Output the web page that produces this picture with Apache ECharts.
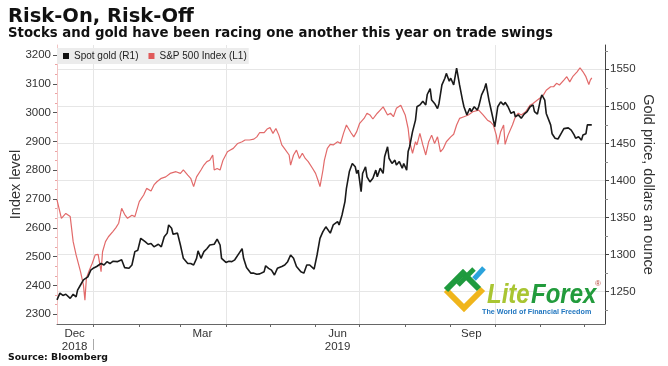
<!DOCTYPE html>
<html><head><meta charset="utf-8">
<script src="https://cdn.jsdelivr.net/npm/echarts@6/dist/echarts.min.js"></script>
<style>html,body{margin:0;padding:0;background:#fff}#c{width:668px;height:366px}</style>
</head><body><div id="c"></div>
<script>
// S&P 500 Index (left axis)
const spx = [
['2018-12-07',2697],['2018-12-10',2633],['2018-12-13',2650],['2018-12-16',2639],['2018-12-18',2552],
['2018-12-20',2506],['2018-12-23',2448],['2018-12-25',2401],['2018-12-26',2349],['2018-12-27',2425],
['2018-12-29',2453],['2018-12-31',2477],['2019-01-02',2506],['2019-01-04',2508],['2019-01-06',2448],
['2019-01-07',2517],['2019-01-09',2552],['2019-01-11',2569],['2019-01-14',2587],['2019-01-16',2600],
['2019-01-18',2616],['2019-01-20',2668],['2019-01-22',2647],['2019-01-24',2633],['2019-01-27',2644],
['2019-01-29',2639],['2019-02-01',2691],['2019-02-04',2714],['2019-02-06',2737],['2019-02-09',2728],
['2019-02-11',2749],['2019-02-13',2760],['2019-02-16',2772],['2019-02-19',2777],['2019-02-22',2789],
['2019-02-26',2795],['2019-03-01',2789],['2019-03-03',2801],['2019-03-06',2783],['2019-03-08',2772],
['2019-03-10',2743],['2019-03-12',2777],['2019-03-15',2801],['2019-03-17',2818],['2019-03-19',2830],
['2019-03-21',2835],['2019-03-23',2853],['2019-03-24',2801],['2019-03-26',2806],['2019-03-28',2801],
['2019-03-30',2835],['2019-04-02',2864],['2019-04-04',2870],['2019-04-06',2876],['2019-04-09',2893],
['2019-04-10',2888],['2019-04-12',2899],['2019-04-14',2905],['2019-04-17',2905],['2019-04-20',2908],
['2019-04-22',2916],['2019-04-24',2931],['2019-04-27',2931],['2019-04-29',2943],['2019-05-01',2948],
['2019-05-03',2928],['2019-05-05',2945],['2019-05-07',2922],['2019-05-09',2888],['2019-05-11',2874],
['2019-05-14',2853],['2019-05-15',2818],['2019-05-17',2853],['2019-05-19',2870],['2019-05-21',2841],
['2019-05-23',2859],['2019-05-25',2841],['2019-05-27',2830],['2019-05-30',2806],['2019-06-01',2789],
['2019-06-03',2760],['2019-06-04',2743],['2019-06-06',2800],['2019-06-07',2835],['2019-06-09',2876],
['2019-06-11',2890],['2019-06-13',2888],['2019-06-16',2899],['2019-06-18',2893],['2019-06-20',2928],
['2019-06-22',2957],['2019-06-25',2931],['2019-06-27',2916],['2019-06-29',2934],['2019-07-01',2963],
['2019-07-04',2980],['2019-07-06',2998],['2019-07-08',2992],['2019-07-10',2978],['2019-07-13',2998],
['2019-07-15',3009],['2019-07-17',3020],['2019-07-20',2992],['2019-07-22',2998],['2019-07-24',2986],
['2019-07-26',3015],['2019-07-29',3026],['2019-07-30',3020],['2019-08-01',2992],['2019-08-03',2945],
['2019-08-04',2899],['2019-08-06',2859],['2019-08-08',2899],['2019-08-09',2888],['2019-08-11',2928],
['2019-08-13',2888],['2019-08-15',2853],['2019-08-17',2899],['2019-08-19',2922],['2019-08-21',2893],
['2019-08-23',2916],['2019-08-25',2864],['2019-08-27',2876],['2019-08-29',2899],['2019-09-01',2916],
['2019-09-03',2925],['2019-09-05',2957],['2019-09-07',2980],['2019-09-10',2986],['2019-09-13',2992],
['2019-09-16',3003],['2019-09-20',3009],['2019-09-23',2992],['2019-09-26',2974],['2019-09-28',2968],
['2019-09-30',2957],['2019-10-02',2922],['2019-10-03',2890],['2019-10-05',2934],['2019-10-07',2957],
['2019-10-08',2890],['2019-10-10',2922],['2019-10-13',2957],['2019-10-15',2986],['2019-10-17',2998],
['2019-10-19',2992],['2019-10-22',3003],['2019-10-25',3026],['2019-10-27',3032],['2019-10-30',3044],
['2019-11-01',3052],['2019-11-03',3061],['2019-11-05',3078],['2019-11-08',3090],['2019-11-10',3090],
['2019-11-12',3102],['2019-11-14',3096],['2019-11-17',3113],['2019-11-19',3125],['2019-11-21',3107],
['2019-11-23',3125],['2019-11-26',3142],['2019-11-28',3156],['2019-11-30',3142],['2019-12-02',3125],
['2019-12-04',3098],['2019-12-05',3113],['2019-12-06',3121]
];
// Spot gold (right axis)
const gold = [
['2018-12-07',1239],['2018-12-09',1248],['2018-12-11',1245],['2018-12-13',1246.5],['2018-12-16',1241],
['2018-12-18',1246.5],['2018-12-20',1243],['2018-12-21',1252],['2018-12-23',1259],['2018-12-25',1266],
['2018-12-26',1268],['2018-12-28',1270],['2018-12-30',1279],['2019-01-01',1282],['2019-01-03',1284],
['2019-01-06',1288],['2019-01-08',1286],['2019-01-10',1290.5],['2019-01-12',1288],['2019-01-14',1291],
['2019-01-17',1290.5],['2019-01-20',1293],['2019-01-22',1282.5],['2019-01-25',1281.5],['2019-01-27',1286],
['2019-01-29',1304],['2019-01-31',1306],['2019-02-02',1322],['2019-02-05',1317.5],['2019-02-07',1314],
['2019-02-09',1315],['2019-02-11',1310.5],['2019-02-14',1314],['2019-02-16',1310.5],['2019-02-18',1324],
['2019-02-20',1329],['2019-02-21',1340],['2019-02-23',1335.5],['2019-02-24',1327.5],['2019-02-27',1329],
['2019-03-01',1313],['2019-03-03',1295],['2019-03-06',1288],['2019-03-08',1288],['2019-03-10',1286],
['2019-03-12',1295],['2019-03-13',1305],['2019-03-15',1295],['2019-03-17',1304],['2019-03-19',1308],
['2019-03-21',1313],['2019-03-24',1314],['2019-03-26',1321],['2019-03-28',1313],['2019-03-29',1295],
['2019-04-01',1289.5],['2019-04-03',1291],['2019-04-05',1290.5],['2019-04-07',1293],['2019-04-10',1302],
['2019-04-12',1308],['2019-04-13',1295],['2019-04-15',1282.5],['2019-04-18',1275],['2019-04-20',1275],
['2019-04-22',1273.5],['2019-04-24',1274],['2019-04-27',1277],['2019-04-28',1285],['2019-04-30',1281.5],
['2019-05-02',1279],['2019-05-04',1272.5],['2019-05-06',1281.5],['2019-05-09',1284],['2019-05-11',1286],
['2019-05-13',1290.5],['2019-05-15',1299.5],['2019-05-17',1295],['2019-05-19',1284],['2019-05-22',1277],
['2019-05-24',1275],['2019-05-26',1286],['2019-05-28',1286],['2019-05-31',1280.5],['2019-06-02',1299.5],
['2019-06-04',1322],['2019-06-06',1331],['2019-06-08',1337.5],['2019-06-11',1329],['2019-06-13',1340],
['2019-06-16',1344.5],['2019-06-17',1340],['2019-06-19',1353.5],['2019-06-21',1371.5],['2019-06-22',1389.5],
['2019-06-24',1412],['2019-06-26',1423],['2019-06-28',1418.5],['2019-06-29',1409.5],['2019-06-30',1414],
['2019-07-02',1385],['2019-07-03',1409.5],['2019-07-05',1418.5],['2019-07-06',1405],['2019-07-08',1398],
['2019-07-10',1403],['2019-07-12',1414],['2019-07-13',1405],['2019-07-15',1416.5],['2019-07-17',1409.5],
['2019-07-18',1432],['2019-07-20',1445.5],['2019-07-21',1430],['2019-07-23',1423],['2019-07-25',1427.5],
['2019-07-26',1421],['2019-07-28',1425.5],['2019-07-30',1416.5],['2019-07-31',1423],['2019-08-02',1414],
['2019-08-03',1439],['2019-08-04',1445.5],['2019-08-06',1466],['2019-08-08',1481.5],['2019-08-09',1499.5],
['2019-08-11',1502],['2019-08-13',1507],['2019-08-15',1502],['2019-08-16',1516],['2019-08-18',1524],
['2019-08-19',1508.5],['2019-08-21',1504],['2019-08-23',1497],['2019-08-24',1504],['2019-08-26',1529],
['2019-08-28',1538],['2019-08-29',1544.5],['2019-08-31',1534],['2019-09-01',1538],['2019-09-03',1529],
['2019-09-05',1551.5],['2019-09-06',1553.5],['2019-09-07',1529],['2019-09-09',1508.5],['2019-09-10',1499.5],
['2019-09-12',1488.5],['2019-09-14',1497.5],['2019-09-15',1493],['2019-09-17',1499.5],['2019-09-19',1495],
['2019-09-20',1499.5],['2019-09-22',1515.5],['2019-09-24',1524],['2019-09-25',1531],['2019-09-27',1508.5],
['2019-09-28',1499.5],['2019-09-30',1481.5],['2019-10-01',1472.5],['2019-10-03',1499.5],['2019-10-05',1506],
['2019-10-07',1502],['2019-10-08',1505.5],['2019-10-10',1499.5],['2019-10-12',1490.5],['2019-10-14',1493],
['2019-10-15',1486],['2019-10-17',1488.5],['2019-10-19',1484],['2019-10-21',1489.5],['2019-10-23',1493],
['2019-10-25',1499.5],['2019-10-27',1502],['2019-10-28',1493],['2019-10-30',1489.5],['2019-11-01',1508.5],
['2019-11-02',1515.5],['2019-11-04',1508.5],['2019-11-05',1490.5],['2019-11-06',1488.5],['2019-11-08',1475],
['2019-11-09',1463],['2019-11-11',1457],['2019-11-13',1456],['2019-11-15',1463],['2019-11-17',1470],
['2019-11-20',1471],['2019-11-22',1468],['2019-11-24',1461.5],['2019-11-25',1457],['2019-11-27',1459],
['2019-11-29',1454.5],['2019-11-30',1461.5],['2019-12-02',1463],['2019-12-03',1475],['2019-12-04',1475.5],
['2019-12-06',1475]
];
const leftTicks = [2300,2400,2500,2600,2700,2800,2900,3000,3100,3200];
const rightTicks = [1250,1300,1350,1400,1450,1500,1550];
const rightMinor = [1225,1275,1325,1375,1425,1475,1525,1575];
const monthTicks = ['2019-01-01','2019-02-01','2019-03-01','2019-04-01','2019-05-01','2019-06-01',
  '2019-07-01','2019-08-01','2019-09-01','2019-10-01','2019-11-01','2019-12-01'];
const quarterLines = ['2019-01-01','2019-04-01','2019-07-01','2019-10-01'];
const yearBreaks = ['2019-01-01'];
const monthLabels = [['2018-12-19','Dec\n2018'],['2019-03-16','Mar'],['2019-06-16','Jun\n2019'],['2019-09-15','Sep']];

const T = s => +new Date(s + 'T00:00:00');
const labelMap = {};
monthLabels.forEach(([d, t]) => { labelMap[T(d)] = t; });
const leftMinor = [];
for (let i = 0; i < leftTicks.length - 1; i++) {
  const a = leftTicks[i], b = leftTicks[i + 1];
  leftMinor.push(a + (b - a) / 3, a + 2 * (b - a) / 3);
}
const XMIN = T('2018-12-07'), XMAX = T('2019-12-15');
const LMIN = 2266, LMAX = 3235, RMIN = 1206.4, RMAX = 1582.8;
const FF = 'Liberation Sans, Arial, sans-serif';
const FB = 'DejaVu Sans, Verdana, sans-serif';
const hidden = () => ({ axisLine: { show: false }, axisLabel: { show: false }, splitLine: { show: false } });
const xBase = () => ({ type: 'value', min: XMIN, max: XMAX, position: 'bottom' });

const chart = echarts.init(document.getElementById('c'), null, { renderer: 'canvas' });
chart.setOption({
  animation: false,
  backgroundColor: '#fff',
  title: [
    { text: 'Risk-On, Risk-Off', left: 8, top: 7, padding: 0,
      textStyle: { fontFamily: FB, fontWeight: 'bold', fontSize: 19.5, lineHeight: 19, color: '#111' } },
    { text: 'Stocks and gold have been racing one another this year on trade swings', left: 8, top: 27, padding: 0,
      textStyle: { fontFamily: FB, fontWeight: 'bold', fontSize: 13.3, lineHeight: 13, color: '#111' } },
    { text: 'Source: Bloomberg', left: 8, top: 353, padding: 0,
      textStyle: { fontFamily: FB, fontWeight: 'bold', fontSize: 9.3, lineHeight: 9, color: '#111' } }
  ],
  legend: {
    left: 57, top: 48, padding: [3, 2, 3, 6], itemGap: 10, itemWidth: 6, itemHeight: 6,
    backgroundColor: '#ececec', icon: 'rect',
    textStyle: { fontFamily: FF, fontSize: 10, color: '#222', lineHeight: 10 },
    data: ['Spot gold (R1)', 'S&P 500 Index (L1)']
  },
  grid: { left: 57, right: 63, top: 45, bottom: 42, containLabel: false, outerBoundsMode: 'none' },
  xAxis: [
    Object.assign(xBase(), {
      axisLine: { show: true, lineStyle: { color: '#666', width: 1 } },
      axisTick: { show: true, customValues: monthTicks.map(T), length: 3, lineStyle: { color: '#666' } },
      axisLabel: { show: true, customValues: monthLabels.map(m => T(m[0])), formatter: v => labelMap[v] || '',
        fontFamily: FF, fontSize: 11.5, color: '#333', lineHeight: 13, margin: 3, align: 'center' },
      splitLine: { show: false } }),
    Object.assign(xBase(), hidden(), {
      axisTick: { show: false, customValues: quarterLines.map(T) },
      splitLine: { show: true, lineStyle: { color: '#e6e6e6', width: 1 } } }),
    Object.assign(xBase(), hidden(), { offset: 15,
      axisTick: { show: true, customValues: yearBreaks.map(T), length: 11, lineStyle: { color: '#aaa' } } })
  ],
  yAxis: [
    { type: 'value', position: 'left', min: LMIN, max: LMAX,
      name: 'Index level', nameLocation: 'middle', nameGap: 34, nameRotate: 90, nameMoveOverlap: false,
      nameTextStyle: { fontFamily: FF, fontSize: 14.5, color: '#333' },
      axisLine: { show: true, lineStyle: { color: '#f2c4c4' } },
      axisTick: { show: true, customValues: leftTicks, length: 4, lineStyle: { color: '#555' } },
      axisLabel: { customValues: leftTicks, formatter: v => String(v), fontFamily: FF, fontSize: 11.5, color: '#333', margin: 6 },
      splitLine: { show: false } },
    { type: 'value', position: 'right', min: RMIN, max: RMAX,
      name: 'Gold price, dollars an ounce', nameLocation: 'middle', nameGap: 35, nameRotate: -90, nameMoveOverlap: false,
      nameTextStyle: { fontFamily: FF, fontSize: 14.5, color: '#333' },
      axisLine: { show: true, lineStyle: { color: '#444' } },
      axisTick: { show: true, customValues: rightTicks, length: 4, lineStyle: { color: '#444' } },
      axisLabel: { customValues: rightTicks, formatter: v => String(v), fontFamily: FF, fontSize: 11.5, color: '#333', margin: 5 },
      splitLine: { show: true, lineStyle: { color: '#e6e6e6', width: 1 } } },
    Object.assign({ type: 'value', position: 'right', min: RMIN, max: RMAX }, hidden(), {
      axisTick: { show: true, customValues: rightMinor, length: 3, lineStyle: { color: '#888' } } }),
    Object.assign({ type: 'value', position: 'left', min: LMIN, max: LMAX }, hidden(), {
      axisTick: { show: true, customValues: leftMinor, length: 2, lineStyle: { color: '#eba3a3' } } })
  ],
  series: [
    { name: 'S&P 500 Index (L1)', type: 'line', xAxisIndex: 0, yAxisIndex: 0,
      data: spx.map(([d, v]) => [T(d), v]),
      showSymbol: false, symbol: 'none', lineStyle: { color: '#e26a6a', width: 1.2 },
      itemStyle: { color: '#e05a5a' }, z: 2 },
    { name: 'Spot gold (R1)', type: 'line', xAxisIndex: 0, yAxisIndex: 1,
      data: gold.map(([d, v]) => [T(d), v]),
      showSymbol: false, symbol: 'none', lineStyle: { color: '#1a1a1a', width: 1.6 },
      itemStyle: { color: '#111' }, z: 3 }
  ],
  graphic: [
    { type: 'polyline', z: 10, shape: { points: [[446, 290], [464, 308], [483, 289]] },
      style: { stroke: '#f0b51c', lineWidth: 6, fill: null, lineJoin: 'miter' } },
    { type: 'polyline', z: 10, shape: { points: [[446, 290], [463, 273], [479, 289]] },
      style: { stroke: '#1f9a3e', lineWidth: 6, fill: null, lineJoin: 'miter' } },
    { type: 'line', z: 10, shape: { x1: 458, y1: 285, x2: 474, y2: 269 },
      style: { stroke: '#1f9a3e', lineWidth: 5 } },
    { type: 'line', z: 11, shape: { x1: 474, y1: 279, x2: 484, y2: 268 },
      style: { stroke: '#2ba3dc', lineWidth: 5 } },
    { type: 'text', z: 12, left: 487, top: 282, scaleY: 1.15,
      style: { text: 'Lite', fill: '#a9c532', font: 'italic bold 24px Liberation Sans, Arial, sans-serif' } },
    { type: 'text', z: 12, left: 531, top: 282, scaleY: 1.15,
      style: { text: 'Forex', fill: '#229b3c', font: 'italic bold 24px Liberation Sans, Arial, sans-serif' } },
    { type: 'text', z: 12, left: 595, top: 280,
      style: { text: '®', fill: '#b5463a', font: '8px Liberation Sans, Arial, sans-serif' } },
    { type: 'text', z: 12, left: 482, top: 309,
      style: { text: 'The World of Financial Freedom', fill: '#2277c0', font: 'bold 7.2px Liberation Sans, Arial, sans-serif' } }
  ]
});
</script></body></html>
